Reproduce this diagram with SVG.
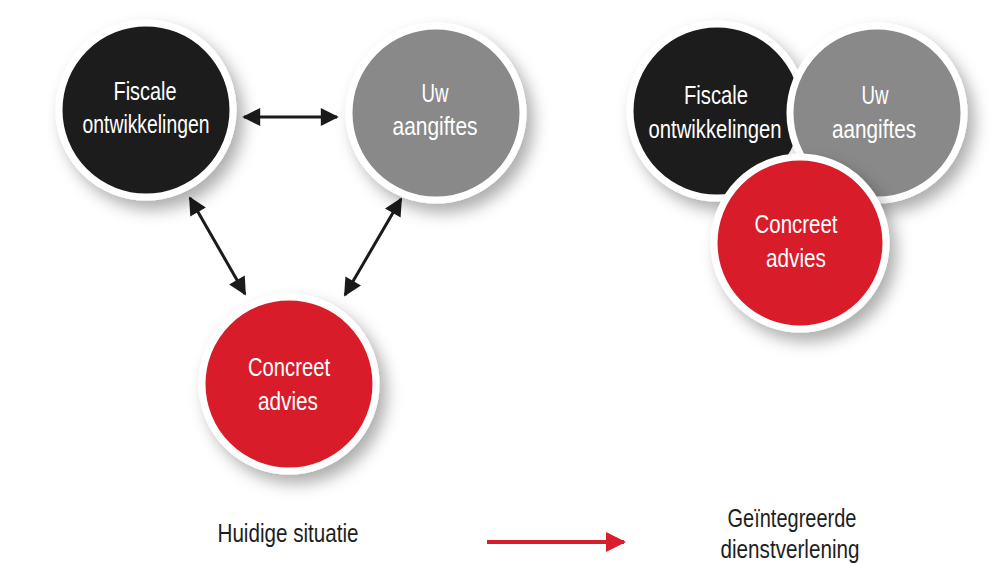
<svg xmlns="http://www.w3.org/2000/svg" width="1005" height="564" viewBox="0 0 1005 564">
<defs>
<filter id="sh" x="-30%" y="-30%" width="170%" height="170%">
<feDropShadow dx="7" dy="9" stdDeviation="8" flood-color="#000" flood-opacity="0.32"/>
</filter>
<marker id="ah" viewBox="0 0 10 10" refX="9" refY="5" markerWidth="7.5" markerHeight="6" orient="auto-start-reverse" markerUnits="strokeWidth">
<path d="M0,0 L10,5 L0,10 z" fill="#1a1a1a"/>
</marker>
<marker id="rh" viewBox="0 0 10 10" refX="9" refY="5" markerWidth="6.5" markerHeight="5" orient="auto" markerUnits="strokeWidth">
<path d="M0,0 L10,5 L0,10 z" fill="#d81e2a"/>
</marker>
</defs>
<style>
.ring{stroke:#fff;stroke-width:7;filter:url(#sh)}
.blk{fill:#1e1e1e}
.gry{fill:#898989}
.red{fill:#d81e2a}
.lbl{font-family:"Liberation Sans",Arial,sans-serif;font-size:26px;fill:#fff;text-anchor:middle}
.cap{font-family:"Liberation Sans",Arial,sans-serif;font-size:25px;fill:#1e1e1e;text-anchor:middle}
.con{stroke:#1a1a1a;stroke-width:3;fill:none}
</style>
<rect width="1005" height="564" fill="#fff"/>
<g id="connectors">
<line class="con" x1="244" y1="117" x2="337" y2="117" marker-start="url(#ah)" marker-end="url(#ah)"/>
<line class="con" x1="190" y1="198" x2="245" y2="294" marker-start="url(#ah)" marker-end="url(#ah)"/>
<line class="con" x1="401" y1="199" x2="345" y2="295" marker-start="url(#ah)" marker-end="url(#ah)"/>
<line x1="487" y1="542" x2="624" y2="542" stroke="#d81e2a" stroke-width="4" marker-end="url(#rh)"/>
</g>
<g id="n-fiscale">
<circle class="ring blk" cx="146" cy="110" r="87"/>
<text class="lbl" x="145" y="100" textLength="63" lengthAdjust="spacingAndGlyphs">Fiscale</text>
<text class="lbl" x="146" y="133" textLength="127" lengthAdjust="spacingAndGlyphs">ontwikkelingen</text>
</g>
<g id="n-aangiftes">
<circle class="ring gry" cx="436" cy="113" r="87"/>
<text class="lbl" x="435" y="102" textLength="27" lengthAdjust="spacingAndGlyphs">Uw</text>
<text class="lbl" x="435" y="135" textLength="85" lengthAdjust="spacingAndGlyphs">aangiftes</text>
</g>
<g id="n-advies">
<circle class="ring red" cx="289" cy="384" r="87"/>
<text class="lbl" x="289" y="376" textLength="82" lengthAdjust="spacingAndGlyphs">Concreet</text>
<text class="lbl" x="288" y="410" textLength="60" lengthAdjust="spacingAndGlyphs">advies</text>
</g>
<g id="r-fiscale">
<circle class="ring blk" cx="717" cy="111" r="87"/>
<text class="lbl" x="716" y="104" textLength="64" lengthAdjust="spacingAndGlyphs">Fiscale</text>
<text class="lbl" x="715" y="138" textLength="133" lengthAdjust="spacingAndGlyphs">ontwikkelingen</text>
</g>
<g id="r-aangiftes">
<circle class="ring gry" cx="877" cy="113" r="87"/>
<text class="lbl" x="875" y="104" textLength="27" lengthAdjust="spacingAndGlyphs">Uw</text>
<text class="lbl" x="874" y="138" textLength="84" lengthAdjust="spacingAndGlyphs">aangiftes</text>
</g>
<g id="r-advies">
<circle class="ring red" cx="800" cy="243" r="86"/>
<text class="lbl" x="796" y="233" textLength="83" lengthAdjust="spacingAndGlyphs">Concreet</text>
<text class="lbl" x="796" y="267" textLength="60" lengthAdjust="spacingAndGlyphs">advies</text>
</g>
<g id="captions">
<text class="cap" x="288" y="542" textLength="141" lengthAdjust="spacingAndGlyphs">Huidige situatie</text>
<text class="cap" x="792" y="527" textLength="129" lengthAdjust="spacingAndGlyphs">Geïntegreerde</text>
<text class="cap" x="790" y="558" textLength="139" lengthAdjust="spacingAndGlyphs">dienstverlening</text>
</g>
</svg>
